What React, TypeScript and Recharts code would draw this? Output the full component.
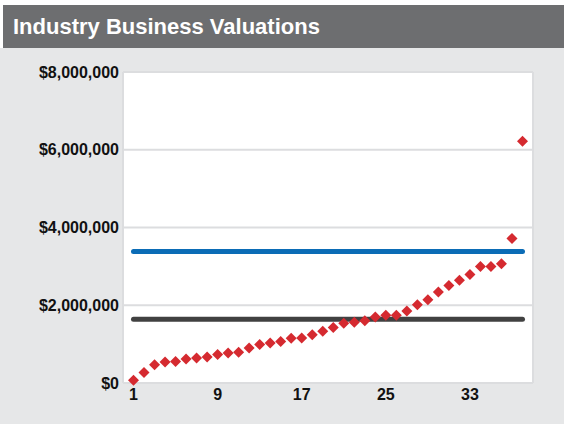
import { ScatterChart, Scatter, XAxis, YAxis, CartesianGrid } from "recharts";

const companies = Array.from({ length: 38 }, (_, i) => i + 1);

const valuations = [
  0.07, 0.27, 0.47, 0.54, 0.55, 0.62, 0.64, 0.67, 0.73, 0.77,
  0.79, 0.9, 0.99, 1.03, 1.07, 1.15, 1.16, 1.24, 1.33, 1.43,
  1.54, 1.56, 1.6, 1.7, 1.74, 1.74, 1.85, 2.01, 2.14, 2.34,
  2.51, 2.64, 2.79, 3.0, 3.0, 3.07, 3.72, 6.22,
].map((v) => v * 1000000);

const averageValue = 3380000;
const medianValue = 1640000;

const xTicks = [1, 9, 17, 25, 33];
const yTicks = [0, 2000000, 4000000, 6000000, 8000000];

const points = companies.map((c, i) => ({ x: c, y: valuations[i] }));
const averageLine = [
  { x: companies[0], y: averageValue },
  { x: companies[companies.length - 1], y: averageValue },
];
const medianLine = [
  { x: companies[0], y: medianValue },
  { x: companies[companies.length - 1], y: medianValue },
];

const RED = "#d52a30";
const BLUE = "#0b6cb6";
const DARK = "#414141";
const FONT = "'Liberation Sans', Arial, sans-serif";

const Diamond = (props: any) => {
  const { cx, cy } = props;
  const r = 5.5;
  return (
    <polygon
      points={`${cx},${cy - r} ${cx + r},${cy} ${cx},${cy + r} ${cx - r},${cy}`}
      fill={RED}
    />
  );
};

const NoPoint = () => <g />;

const fmtMoney = (v: number) => "$" + v.toLocaleString("en-US");

export default function App() {
  return (
    <div
      style={{
        position: "absolute",
        left: 0,
        top: 0,
        width: 564,
        height: 424,
        background: "#fff",
        fontFamily: FONT,
      }}
    >
      <div
        style={{
          position: "absolute",
          left: 0,
          top: 48,
          width: 564,
          height: 376,
          background: "#e6e7e8",
        }}
      />
      <div
        style={{
          position: "absolute",
          left: 3,
          top: 5,
          width: 561,
          height: 43,
          background: "#6d6e70",
          color: "#fff",
          fontWeight: "bold",
          fontSize: 22,
          lineHeight: "44px",
          paddingLeft: 10,
          boxSizing: "border-box",
        }}
      >
        Industry Business Valuations
      </div>
      <div style={{ position: "absolute", left: 0, top: 0 }}>
        <ScatterChart
          width={564}
          height={424}
          margin={{ top: 72, right: 31, bottom: 0, left: 0 }}
        >
          <CartesianGrid
            fill="#ffffff"
            stroke="#dcdddf"
            strokeWidth={2}
            verticalCoordinatesGenerator={({ offset }: any) => [
              offset.left,
              offset.left + offset.width,
            ]}
          />
          <XAxis
            type="number"
            dataKey="x"
            domain={[0, 39]}
            ticks={xTicks}
            axisLine={false}
            tickLine={false}
            tickSize={0}
            tickMargin={6}
            height={41}
            tick={{ fill: "#111", fontSize: 16, fontWeight: "bold", fontFamily: FONT }}
            interval={0}
          />
          <YAxis
            type="number"
            dataKey="y"
            domain={[0, 8000000]}
            ticks={yTicks}
            axisLine={false}
            tickLine={false}
            tickSize={0}
            tickMargin={4}
            width={123}
            tickFormatter={fmtMoney}
            tick={{ fill: "#111", fontSize: 16, fontWeight: "bold", fontFamily: FONT }}
            interval={0}
          />
          <Scatter
            data={averageLine}
            shape={NoPoint}
            line={{ stroke: BLUE, strokeWidth: 5, strokeLinecap: "round" }}
            isAnimationActive={false}
          />
          <Scatter
            data={medianLine}
            shape={NoPoint}
            line={{ stroke: DARK, strokeWidth: 5, strokeLinecap: "round" }}
            isAnimationActive={false}
          />
          <Scatter data={points} shape={Diamond} isAnimationActive={false} />
        </ScatterChart>
      </div>
    </div>
  );
}
